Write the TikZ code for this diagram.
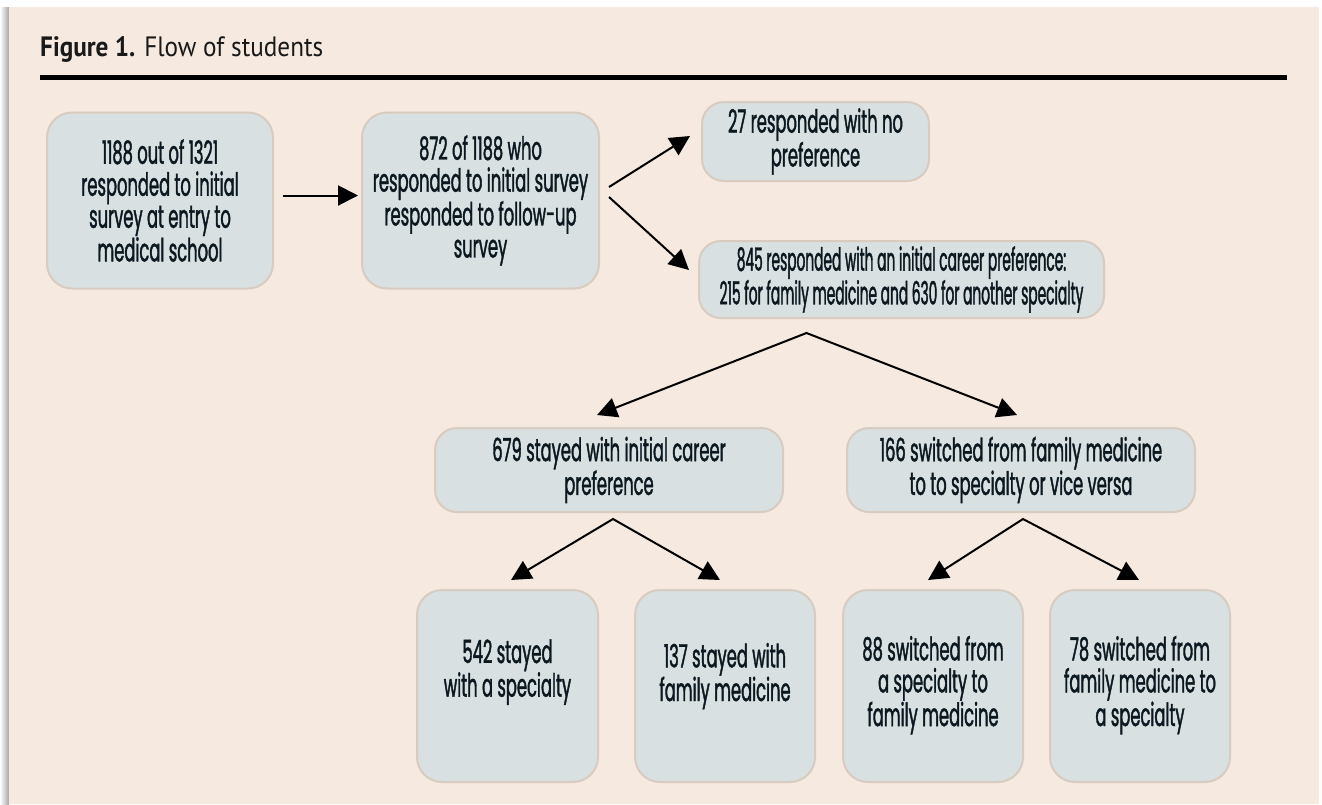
\documentclass[tikz,border=0pt]{standalone}
\usepackage{fontspec}
\setmainfont[FakeStretch=0.51, FakeBold=1.2]{Poppins}
\newfontfamily\tightfont[FakeStretch=0.43, FakeBold=1.2]{Poppins}
\newfontfamily\titlefont[FakeStretch=0.9]{PT Sans}
\usetikzlibrary{arrows.meta,positioning}

\definecolor{panel}{HTML}{F5E9E0}
\definecolor{boxfill}{HTML}{D8E0E1}
\definecolor{boxline}{HTML}{D8CBC0}
\definecolor{ink}{HTML}{0B1820}

\begin{document}
\begin{tikzpicture}
[ x=1pt, y=1pt
, box/.style={draw=boxline, line width=2pt, fill=boxfill, rounded corners=25pt,
    align=center, text=ink, inner sep=0pt, font=\fontsize{32}{32}\selectfont}
, flatbox/.style={box, rounded corners=22pt}
, flow/.style={line width=2pt, -{Triangle[length=20pt,width=20pt]}}
, split/.style={line width=2pt, {Triangle[length=20pt,width=20pt]}-{Triangle[length=20pt,width=20pt]}}
]

% page and title
\fill[white] (0,0) rectangle (1322,-804);
\shade[left color=white, right color=black!35] (0,-7) rectangle (9,-804);
\fill[panel] (9,-7) rectangle (1319,-804);
\node[anchor=base west, inner sep=0pt, text=black!90, font=\titlefont\fontsize{28}{34}\selectfont] (title) at (40,-56)
  {\textbf{Figure 1.} Flow of students};
\fill[black] (40,-75) rectangle (1287,-80);

% first row
\node[box, minimum width=226pt, minimum height=176pt] (entry) at (160,-200.5)
  {1188 out of 1321\\responded to initial\\survey at entry to\\medical school};
\node[box, minimum width=237pt, minimum height=176pt, right=87pt of entry] (followup)
  {872 of 1188 who\\responded to initial survey\\responded to follow-up\\survey};

\node[flatbox, minimum width=227pt, minimum height=79pt] (nopref) at (815.5,-141.5)
  {27 responded with no\\preference};
\node[flatbox, minimum width=405pt, minimum height=77pt, font=\tightfont\fontsize{32}{32}\selectfont] (pref) at (901.5,-279.5)
  {845 responded with an initial career preference:\\215 for family medicine and 630 for another specialty};

% second row
\node[flatbox, minimum width=348pt, minimum height=84pt] (stayed) at (609,-470)
  {679 stayed with initial career\\preference};
\node[flatbox, minimum width=348pt, minimum height=84pt, right=62pt of stayed] (switched)
  {166 switched from family medicine\\to to specialty or vice versa};

% third row (text sits a little above the middle)
\node[box, minimum width=181pt, minimum height=192pt] (stayspec) at (507.5,-686)
  {542 stayed\\with a specialty\\[4pt]\mbox{}};
\node[box, minimum width=180pt, minimum height=192pt, right=35pt of stayspec] (stayfam)
  {137 stayed with\\family medicine\\[-4pt]\mbox{}};
\node[box, minimum width=180pt, minimum height=192pt] (tofam) at (933,-686)
  {88 switched from\\a specialty to\\family medicine\\[-22pt]\mbox{}};
\node[box, minimum width=180pt, minimum height=192pt, right=25pt of tofam] (tospec)
  {78 switched from\\family medicine to\\a specialty\\[-22pt]\mbox{}};

% split points
\coordinate (prefsplit) at ([xshift=-95pt,yshift=-14pt]pref.south);
\coordinate (stayedsplit) at ([xshift=4pt,yshift=-6pt]stayed.south);
\coordinate (switchedsplit) at ([xshift=2pt,yshift=-6pt]switched.south);

% connectors
\draw[flow] ([xshift=9pt,yshift=5pt]entry.east) -- ([xshift=-3pt,yshift=5pt]followup.west);
\draw[flow] ([xshift=9pt,yshift=13.5pt]followup.east) -- ([xshift=-11pt,yshift=5.5pt]nopref.west);
\draw[flow] ([xshift=9pt,yshift=3.5pt]followup.east) -- ([xshift=-9pt,yshift=9.5pt]pref.west);

\draw[split] ([xshift=-12pt,yshift=12pt]stayed.north) -- (prefsplit)
  -- ([xshift=-4pt,yshift=12pt]switched.north);
\draw[split] ([xshift=3.5pt,yshift=9pt]stayspec.north) -- (stayedsplit)
  -- ([xshift=-5pt,yshift=9pt]stayfam.north);
\draw[split] ([xshift=-5pt,yshift=9pt]tofam.north) -- (switchedsplit)
  -- ([xshift=-1pt,yshift=9pt]tospec.north);

\end{tikzpicture}
\end{document}
